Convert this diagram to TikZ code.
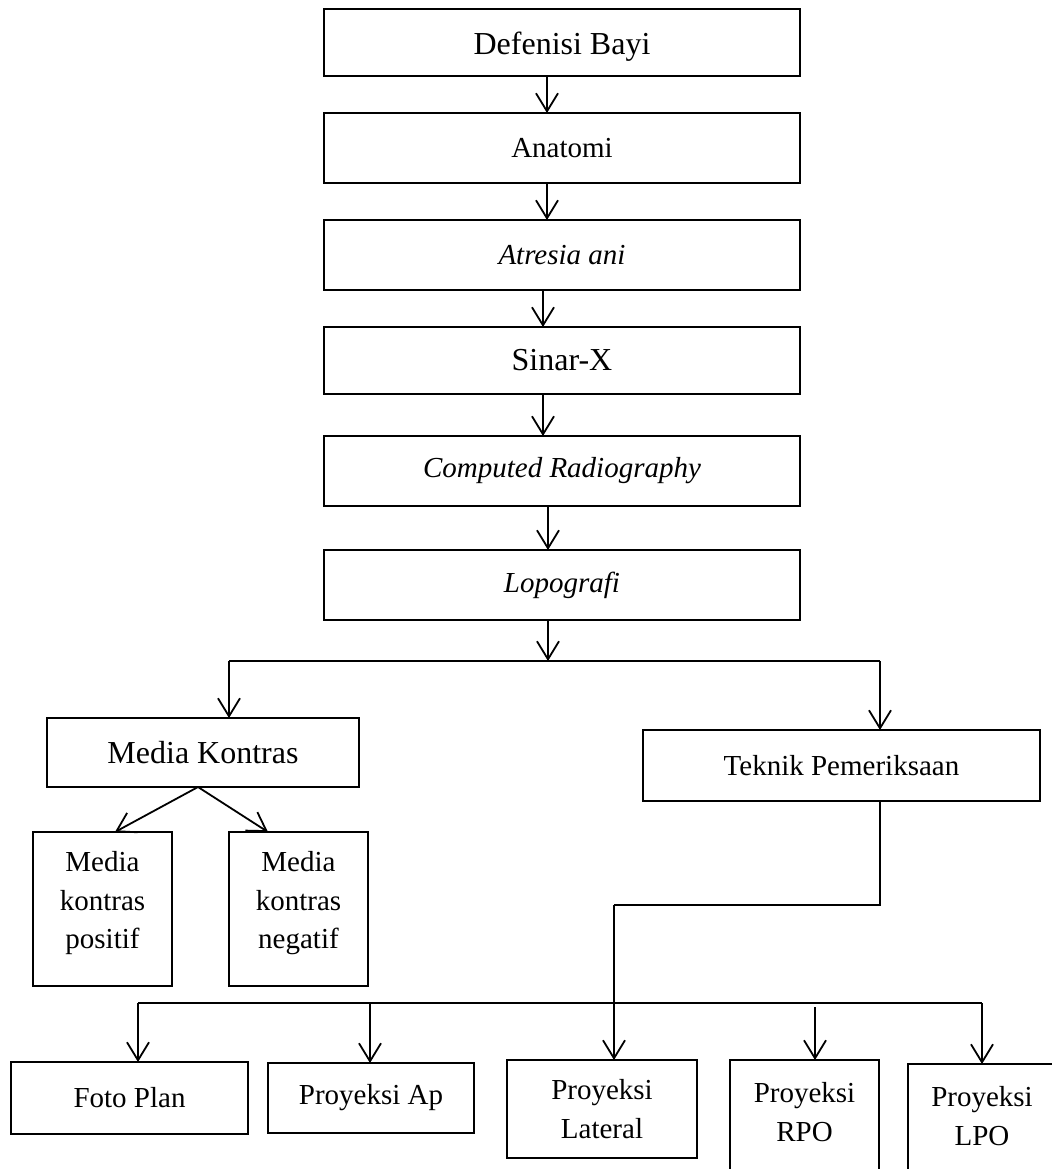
\documentclass[tikz,border=0pt]{standalone}
\usepackage{fontspec}
\setmainfont{Liberation Serif}
\usetikzlibrary{arrows.meta}
\begin{document}
\begin{tikzpicture}[x=0.5pt,y=-0.5pt,
  box/.style={draw, line width=0.9pt, inner sep=0pt, outer sep=0pt, align=center,
    font=\fontsize{14.5}{19.2}\selectfont},
  thickbox/.style={box, line width=1.35pt},
  big/.style={font=\fontsize{16}{20}\selectfont},
  plain/.style={inner sep=0pt, align=center, font=\fontsize{14.5}{19.2}\selectfont},
  conn/.style={line width=0.9pt},
  arr/.style={conn, -{Straight Barb[length=9pt,width=11pt,line width=0.9pt]}},
]
\useasboundingbox (0,0) rectangle (1052,1169);
\fill[white] (0,0) rectangle (1052,1169);
\clip (0,0) rectangle (1052,1169);

% main column
\node[thickbox, big, minimum width=238pt, minimum height=33.5pt, text height=15pt] (def) at (562,42.5) {Defenisi Bayi};
\node[box, minimum width=238pt, minimum height=35pt] (ana) at (562,148) {Anatomi};
\node[box, minimum width=238pt, minimum height=35pt] (atr) at (562,255) {\textit{Atresia ani}};
\node[thickbox, big, minimum width=238pt, minimum height=33.5pt] (sin) at (562,360.5) {Sinar-X};
\node[box, minimum width=238pt, minimum height=35pt] (cr) at (562,471) {\textit{Computed Radiography}};
\node[box, minimum width=238pt, minimum height=35pt] (lop) at (562,585) {\textit{Lopografi}};

% second level
\node[box, big, minimum width=156pt, minimum height=34.5pt] (mk) at (203,752.5) {Media Kontras};
\node[box, minimum width=198.5pt, minimum height=35.5pt] (tp) at (841.5,765.5) {Teknik Pemeriksaan};

\node[box, minimum width=69.5pt, minimum height=77pt, text depth=9pt] (pos) at (102.5,909) {Media\\kontras\\positif};
\node[box, minimum width=69.5pt, minimum height=77pt, text depth=9pt] (neg) at (298.5,909) {Media\\kontras\\negatif};

% bottom row
\node[box, minimum width=118.5pt, minimum height=36pt] (fp) at (129.5,1098) {Foto Plan};
\node[box, minimum width=103pt, minimum height=35pt] (ap) at (371,1098) {Proyeksi Ap};
\node[box, minimum width=95pt, minimum height=49pt] (lat) at (602,1109) {Proyeksi\\Lateral};
\node[box, anchor=north, minimum width=74.5pt, minimum height=70pt] (rpo) at (804.5,1060) {};
\node[plain] (rpot) at (804.5,1112) {Proyeksi\\RPO};
\node[box, anchor=north, minimum width=74pt, minimum height=70pt] (lpo) at (982,1064) {};
\node[plain] (lpot) at (982,1116) {Proyeksi\\LPO};

% coordinates for connectors
\coordinate (xa) at (547,0);
\coordinate (xb) at (543,0);
\coordinate (xc) at (548,0);
\coordinate (bj) at (548,661);
\coordinate (bl) at (229,661);
\coordinate (br) at (880,661);
\coordinate (apx) at (198,0);
\coordinate (t1) at (115,0);
\coordinate (t2) at (268,0);
\coordinate (tv) at (614,905);
\coordinate (ql) at (138,1003);
\coordinate (qa) at (370,1003);
\coordinate (qb) at (815,1007);
\coordinate (qr) at (982,1003);

% connectors
\draw[arr] (def.south -| xa) -- (ana.north -| xa);
\draw[arr] (ana.south -| xa) -- (atr.north -| xa);
\draw[arr] (atr.south -| xb) -- (sin.north -| xb);
\draw[arr] (sin.south -| xb) -- (cr.north -| xb);
\draw[arr] (cr.south -| xc) -- (lop.north -| xc);
\draw[arr] (lop.south -| bj) -- (bj);
\draw[conn] (bl) -- (br);
\draw[arr] (bl) -- (mk.north -| bl);
\draw[arr] (br) -- (tp.north -| br);

\draw[arr] (mk.south -| apx) -- (pos.north -| t1);
\draw[arr] (mk.south -| apx) -- (neg.north -| t2);

\draw[conn] (tp.south -| br) |- (tv);
\draw[arr] (tv) -- (lat.north -| tv);

\draw[conn] (ql) -- (qr);
\draw[arr] (ql) -- (fp.north -| ql);
\draw[arr] (qa) -- (ap.north -| qa);
\draw[arr] (qb) -- (rpo.north -| qb);
\draw[arr] (qr) -- (lpo.north -| qr);
\end{tikzpicture}
\end{document}
